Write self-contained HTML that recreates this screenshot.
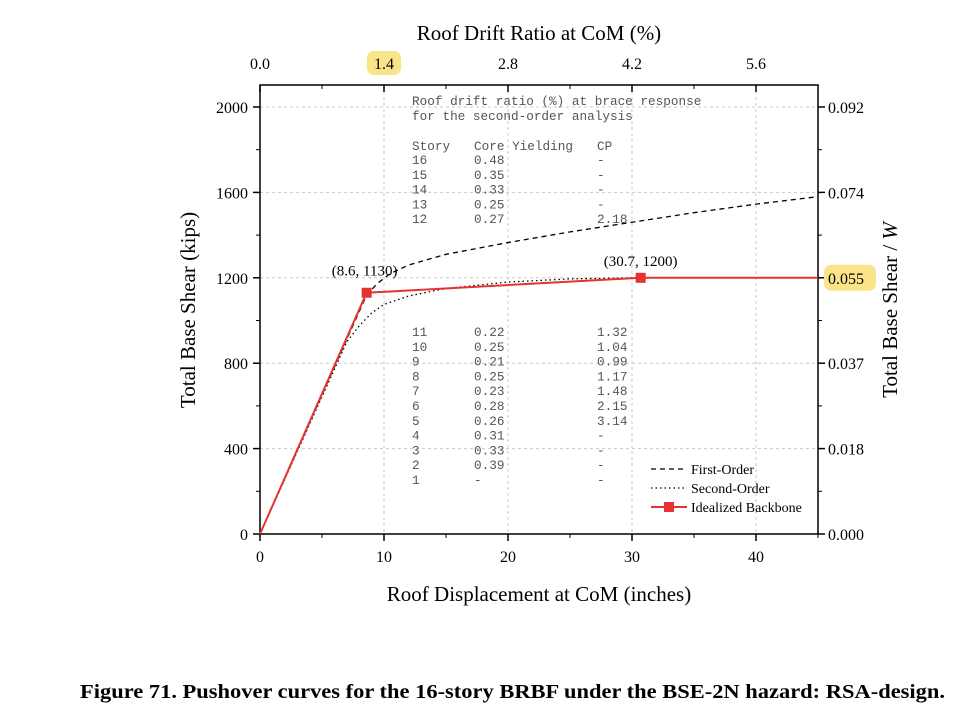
<!DOCTYPE html>
<html><head><meta charset="utf-8"><style>
body{margin:0;background:#fff;}
svg{display:block;font-family:"Liberation Serif",serif;}
.mono{font-family:"Liberation Mono",monospace;font-size:12.7px;fill:#555;}
</style></head><body>
<svg id="chart" width="971" height="725">
<g id="grid"></g>
<g id="axes"></g>
<g id="series"></g>
<g id="table"></g>
<g id="legend"></g>
<text x="539" y="40" text-anchor="middle" font-size="21">Roof Drift Ratio at CoM (%)</text>
<text x="539" y="601" text-anchor="middle" font-size="21">Roof Displacement at CoM (inches)</text>
<text transform="translate(195,310) rotate(-90)" text-anchor="middle" font-size="21">Total Base Shear (kips)</text>
<text transform="translate(897,310) rotate(-90)" text-anchor="middle" font-size="21">Total Base Shear / <tspan font-style="italic">W</tspan></text>
<text x="80" y="698" font-size="20" font-weight="bold" textLength="865" lengthAdjust="spacingAndGlyphs">Figure 71.  Pushover curves for the 16-story BRBF under the BSE-2N hazard: RSA-design.</text>
</svg>
<script>
const xTicks=[0,10,20,30,40];
const yTicks=[0,400,800,1200,1600,2000];
const topTickLabels=["0.0","1.4","2.8","4.2","5.6"];
const rightTickLabels=["0.000","0.018","0.037","0.055","0.074","0.092"];
const firstX=[0,8.6,9.5,10.5,12,15,20,25,30,35,40,45];
const firstY=[0,1120,1175,1220,1260,1310,1365,1415,1460,1505,1545,1580];
const secondX=[0,7,8,9,10,12,15,20,25,30];
const secondY=[0,900,975,1035,1075,1115,1150,1180,1195,1200];
const backX=[0,8.6,30.7,45];
const backY=[0,1130,1200,1200];
const storyRowsTop=["16","15","14","13","12"];
const coreTop=["0.48","0.35","0.33","0.25","0.27"];
const cpTop=["-","-","-","-","2.18"];
const storyRowsBot=["11","10","9","8","7","6","5","4","3","2","1"];
const coreBot=["0.22","0.25","0.21","0.25","0.23","0.28","0.26","0.31","0.33","0.39","-"];
const cpBot=["1.32","1.04","0.99","1.17","1.48","2.15","3.14","-","-","-","-"];

const L=260,R=818,T=85,B=534;
const X=v=>L+v*12.4, Y=v=>B-v*0.2135;
const NS="http://www.w3.org/2000/svg";
function mk(tag,attrs,parent,txt){const e=document.createElementNS(NS,tag);for(const k in attrs)e.setAttribute(k,attrs[k]);if(txt!==undefined)e.textContent=txt;parent.appendChild(e);return e;}
const grid=document.getElementById('grid'),axes=document.getElementById('axes'),series=document.getElementById('series');
xTicks.forEach((t,i)=>{
 if(t>0){const g=mk('line',{x1:X(t),x2:X(t),y1:T,y2:B,stroke:'#c8c8c8','stroke-dasharray':'3,3'},grid);
 
 }
 mk('line',{x1:X(t),x2:X(t),y1:B,y2:B+7,stroke:'#000','stroke-width':1.5},axes);
 mk('line',{x1:X(t),x2:X(t),y1:T,y2:T+7,stroke:'#000','stroke-width':1.5},axes);
 mk('line',{x1:X(t+5),x2:X(t+5),y1:B,y2:B+4,stroke:'#000'},axes);
 mk('line',{x1:X(t+5),x2:X(t+5),y1:T,y2:T+4,stroke:'#000'},axes);
 const lb=mk('text',{x:X(t),y:B+28,'text-anchor':'middle','font-size':16},axes,String(t));
 
 
 if(topTickLabels[i]==="1.4")mk('rect',{x:X(t)-17,y:T-34,width:34,height:24,rx:7,fill:'#fbe38a'},axes);
 const tl=mk('text',{x:X(t),y:T-16,'text-anchor':'middle','font-size':16},axes,topTickLabels[i]);
 
 
});
yTicks.forEach((t,i)=>{
 if(t>0){const g=mk('line',{x1:L,x2:R,y1:Y(t),y2:Y(t),stroke:'#c8c8c8','stroke-dasharray':'3,3'},grid);
 
 }
 mk('line',{x1:L-7,x2:L,y1:Y(t),y2:Y(t),stroke:'#000','stroke-width':1.5},axes);
 mk('line',{x1:R,x2:R+7,y1:Y(t),y2:Y(t),stroke:'#000','stroke-width':1.5},axes);
 if(t<2000){mk('line',{x1:L-4,x2:L,y1:Y(t+200),y2:Y(t+200),stroke:'#000'},axes);
 mk('line',{x1:R,x2:R+4,y1:Y(t+200),y2:Y(t+200),stroke:'#000'},axes);}
 const lb=mk('text',{x:L-12,y:Y(t)+6,'text-anchor':'end','font-size':16},axes,String(t));
 
 
 if(rightTickLabels[i]==="0.055")mk('rect',{x:R+6,y:Y(t)-13,width:52,height:26,rx:7,fill:'#fbe38a'},axes);
 const rl=mk('text',{x:R+10,y:Y(t)+6,'font-size':16},axes,rightTickLabels[i]);
 
 
});
mk('rect',{x:L,y:T,width:R-L,height:B-T,fill:'none',stroke:'#000','stroke-width':1.5},axes);
const pts=(xs,ys)=>xs.map((x,i)=>X(x)+','+Y(ys[i])).join(' ');
const f=mk('polyline',{points:pts(firstX,firstY),fill:'none',stroke:'#000','stroke-width':1.3,'stroke-dasharray':'5,4'},series);


const s=mk('polyline',{points:pts(secondX,secondY),fill:'none',stroke:'#000','stroke-width':1.3,'stroke-dasharray':'1.5,3'},series);


const b=mk('polyline',{points:pts(backX,backY),fill:'none',stroke:'#e53333','stroke-width':2},series);


[1,2].forEach(i=>{
 const m=mk('rect',{x:X(backX[i])-5,y:Y(backY[i])-5,width:10,height:10,fill:'#e53333'},series);
 
 
 const a=mk('text',{x:X(backX[i])+(i==1?-2:0),y:Y(backY[i])-(i==1?17:12),'text-anchor':'middle','font-size':15},series,'('+backX[i]+', '+backY[i]+')');
 
 
});
const tb=document.getElementById('table');
mk('text',{x:412,y:105,class:'mono'},tb,'Roof drift ratio (%) at brace response');
mk('text',{x:412,y:120,class:'mono'},tb,'for the second-order analysis');
mk('text',{x:412,y:150,class:'mono'},tb,'Story');
mk('text',{x:474,y:150,class:'mono'},tb,'Core Yielding');
mk('text',{x:597,y:150,class:'mono'},tb,'CP');
storyRowsTop.forEach((r,i)=>{const y=164+i*14.8;
 mk('text',{x:412,y:y,class:'mono'},tb,r);mk('text',{x:474,y:y,class:'mono'},tb,coreTop[i]);mk('text',{x:597,y:y,class:'mono'},tb,cpTop[i]);});
storyRowsBot.forEach((r,i)=>{const y=336+i*14.8;
 mk('text',{x:412,y:y,class:'mono'},tb,r);mk('text',{x:474,y:y,class:'mono'},tb,coreBot[i]);mk('text',{x:597,y:y,class:'mono'},tb,cpBot[i]);});
const lg=document.getElementById('legend');
const items=[['First-Order','5,4','#000'],['Second-Order','1.5,3','#000'],['Idealized Backbone','','#e53333']];
items.forEach((it,i)=>{const y=469+i*19;
 const g=mk('g',{},lg);
 
 
 mk('line',{x1:651,x2:687,y1:y,y2:y,stroke:it[2],'stroke-width':i==2?2:1.3,'stroke-dasharray':it[1]},g);
 if(i==2)mk('rect',{x:664,y:y-5,width:10,height:10,fill:'#e53333'},g);
 mk('text',{x:691,y:y+5,'font-size':14},g,it[0]);
});
</script>
</body></html>
